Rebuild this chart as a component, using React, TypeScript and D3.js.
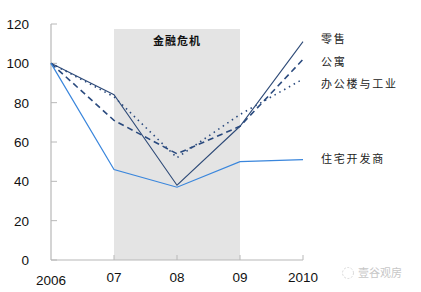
import React from "react";
import * as d3 from "d3";

const years = ["2006", "07", "08", "09", "2010"];
const yTicks = [0, 20, 40, 60, 80, 100, 120];
const retail = [100, 84, 38, 68, 111];
const apartment = [100, 71, 54, 68, 102];
const officeIndustrial = [100, 83, 52, 74, 92];
const residentialDevelopers = [100, 46, 37, 50, 51];
const seriesNames = ["零售", "公寓", "办公楼与工业", "住宅开发商"];
const crisisLabel = "金融危机";
const crisisRange = ["07", "09"];
const watermark = "壹谷观房";

const W = 421;
const H = 292;

export default function App() {
  const x = d3.scalePoint<string>().domain(years).range([51, 303]);
  const y = d3.scaleLinear().domain([0, 120]).range([260, 24]);
  const line = d3
    .line<number>()
    .x((_, i) => x(years[i]) as number)
    .y((d) => y(d));

  const series = [
    { name: seriesNames[0], data: retail, color: "#2f4b78", width: 1.1, dash: undefined as string | undefined, cap: "butt" },
    { name: seriesNames[1], data: apartment, color: "#2a4a7e", width: 1.6, dash: "6,4", cap: "butt" },
    { name: seriesNames[2], data: officeIndustrial, color: "#2a4a7e", width: 1.6, dash: "1.5,4", cap: "butt" },
    { name: seriesNames[3], data: residentialDevelopers, color: "#3a86dc", width: 1.2, dash: undefined, cap: "butt" },
  ];

  const labelY = [39, 62, 84, 159];
  const x0 = x(crisisRange[0]) as number;
  const x1 = x(crisisRange[1]) as number;
  const cjk = "'Noto Sans CJK SC', sans-serif";
  const num = "'Liberation Sans', Arial, sans-serif";

  return (
    <svg width={W} height={H} style={{ position: "absolute", left: 0, top: 0, background: "#fff" }}>
      <rect x={x0} y={29} width={x1 - x0} height={y(0) - 29} fill="#e4e4e4" />
      <text x={(x0 + x1) / 2} y={45} textAnchor="middle" fontFamily={cjk} fontSize={11} fontWeight={700} fill="#111" letterSpacing={1}>
        {crisisLabel}
      </text>
      {/* axes */}
      <line x1={x(years[0])} x2={x(years[0])} y1={y(120)} y2={y(0)} stroke="#b8b8b8" strokeWidth={1.2} />
      <line x1={x(years[0])} x2={x(years[years.length - 1])} y1={y(0)} y2={y(0)} stroke="#b8b8b8" strokeWidth={1.2} />
      {yTicks.map((t) => (
        <g key={t}>
          <line x1={51} x2={57} y1={y(t)} y2={y(t)} stroke="#b8b8b8" strokeWidth={1} />
          <text x={29} y={y(t) + 5} textAnchor="end" fontFamily={num} fontSize={13.5} fill="#111">
            {t}
          </text>
        </g>
      ))}
      {years.map((yr, i) => (
        <g key={yr}>
          {i > 0 && <line x1={x(yr)} x2={x(yr)} y1={y(0) - 5} y2={y(0)} stroke="#b8b8b8" strokeWidth={1} />}
          <text x={x(yr)} y={i === 0 ? 285 : 282} textAnchor="middle" fontFamily={num} fontSize={13.5} fill="#111">
            {yr}
          </text>
        </g>
      ))}
      {series.map((s) => (
        <path
          key={s.name}
          d={line(s.data) || ""}
          fill="none"
          stroke={s.color}
          strokeWidth={s.width}
          strokeDasharray={s.dash}
          strokeLinecap={s.cap as any}
        />
      ))}
      {series.map((s, i) => (
        <text key={s.name} x={321} y={labelY[i] + 4} fontFamily={cjk} fontSize={11} fill="#222" letterSpacing={1.8}>
          {s.name}
        </text>
      ))}
      <g opacity={0.55}>
        <circle cx={348} cy={273} r={5.5} fill="none" stroke="#aaa" strokeWidth={0.8} strokeDasharray="2,1.5" />
        <text x={358} y={277} fontFamily={cjk} fontSize={11} fill="#999">
          {watermark}
        </text>
      </g>
    </svg>
  );
}
